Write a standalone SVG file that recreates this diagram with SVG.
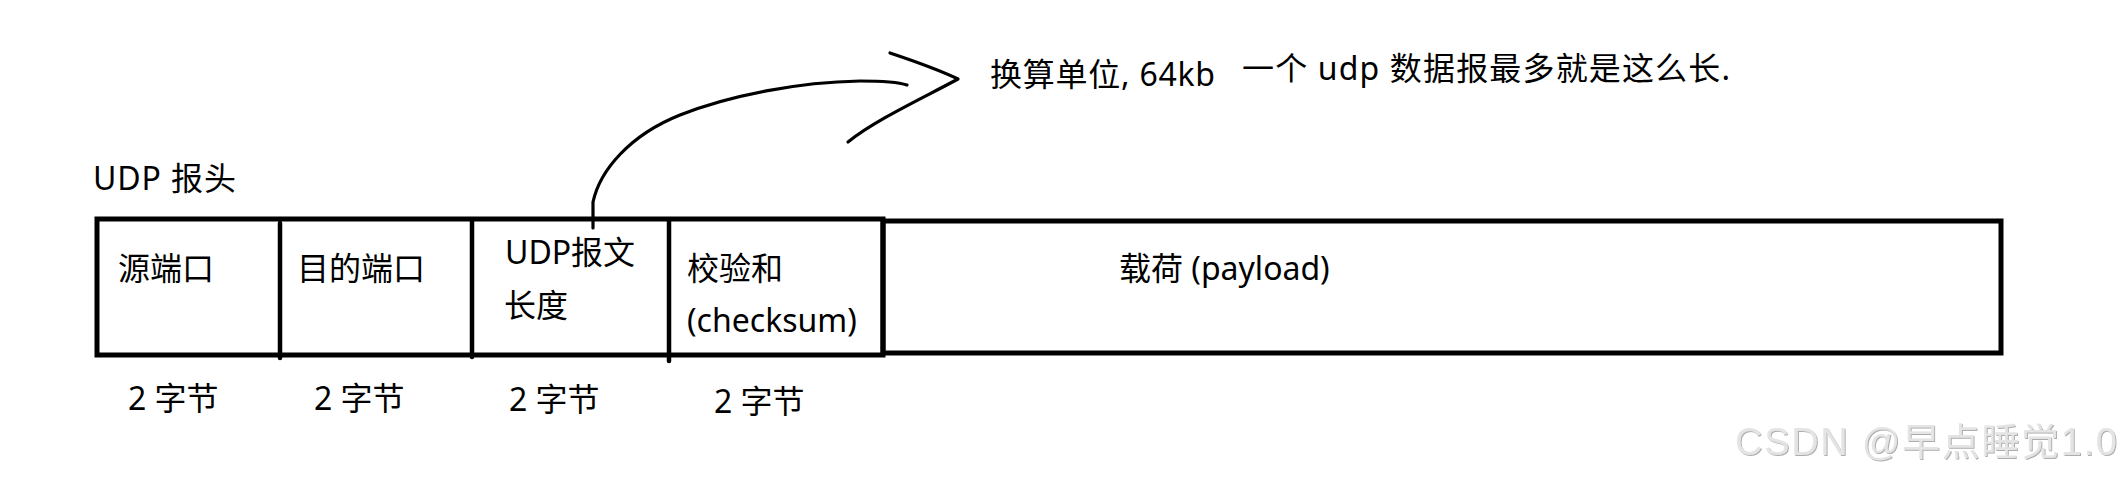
<svg xmlns="http://www.w3.org/2000/svg" width="2122" height="479" viewBox="0 0 2122 479">
<style>
text{font-family:"Noto Sans","Noto Sans CJK SC",sans-serif;font-size:32px;fill:#000}
.box{fill:none;stroke:#000;stroke-width:5}
.div{stroke:#000;stroke-width:4.5;stroke-linecap:round}
.ink{fill:none;stroke:#000;stroke-width:3.2;stroke-linecap:round;stroke-linejoin:round}
.wm{font-family:"Liberation Sans","Noto Sans CJK SC",sans-serif;font-size:38px;fill:#e4e4e4;filter:url(#emb)}
</style>
<defs>
<filter id="emb" x="-5%" y="-20%" width="110%" height="140%">
<feDropShadow dx="1" dy="1" stdDeviation="0.6" flood-color="#999" flood-opacity="0.8"/>
</filter>
</defs>
<rect width="2122" height="479" fill="#fff"/>
<g id="title"><text x="93" y="190" textLength="143">UDP 报头</text></g>
<g id="header-frame">
<rect class="box" x="97" y="219" width="786" height="136"/>
<line class="div" x1="280" y1="223" x2="280" y2="358"/>
<line class="div" x1="472" y1="220" x2="472" y2="357"/>
<line class="div" x1="669" y1="220" x2="669" y2="361"/>
</g>
<g id="src-port"><text x="118" y="280">源端口</text><text x="128" y="410">2 字节</text></g>
<g id="dst-port"><text x="297" y="280">目的端口</text><text x="314" y="410">2 字节</text></g>
<g id="length"><text x="505" y="264">UDP报文</text><text x="504" y="317">长度</text><text x="509" y="411">2 字节</text></g>
<g id="checksum"><text x="687" y="280">校验和</text><text x="687" y="332">(checksum)</text><text x="714" y="413">2 字节</text></g>
<g id="payload"><rect class="box" x="883" y="221" width="1118" height="132"/><text x="1119" y="280">载荷 (payload)</text></g>
<g id="note"><text x="990" y="86" textLength="225">换算单位, 64kb</text><text x="1242" y="80" textLength="488">一个 udp 数据报最多就是这么长.</text></g>
<g id="connectors">
<path class="ink" d="M593,228 L593,202 C600,170 630,135 680,115 C730,95 800,82 860,81 C885,81 898,82 907,85"/>
<path class="ink" d="M890,53 C905,58 935,68 958,79 C925,97 875,120 848,142"/>
</g>
<g id="watermark"><text class="wm" x="1735" y="455" textLength="382">CSDN @早点睡觉1.0</text></g>
</svg>
